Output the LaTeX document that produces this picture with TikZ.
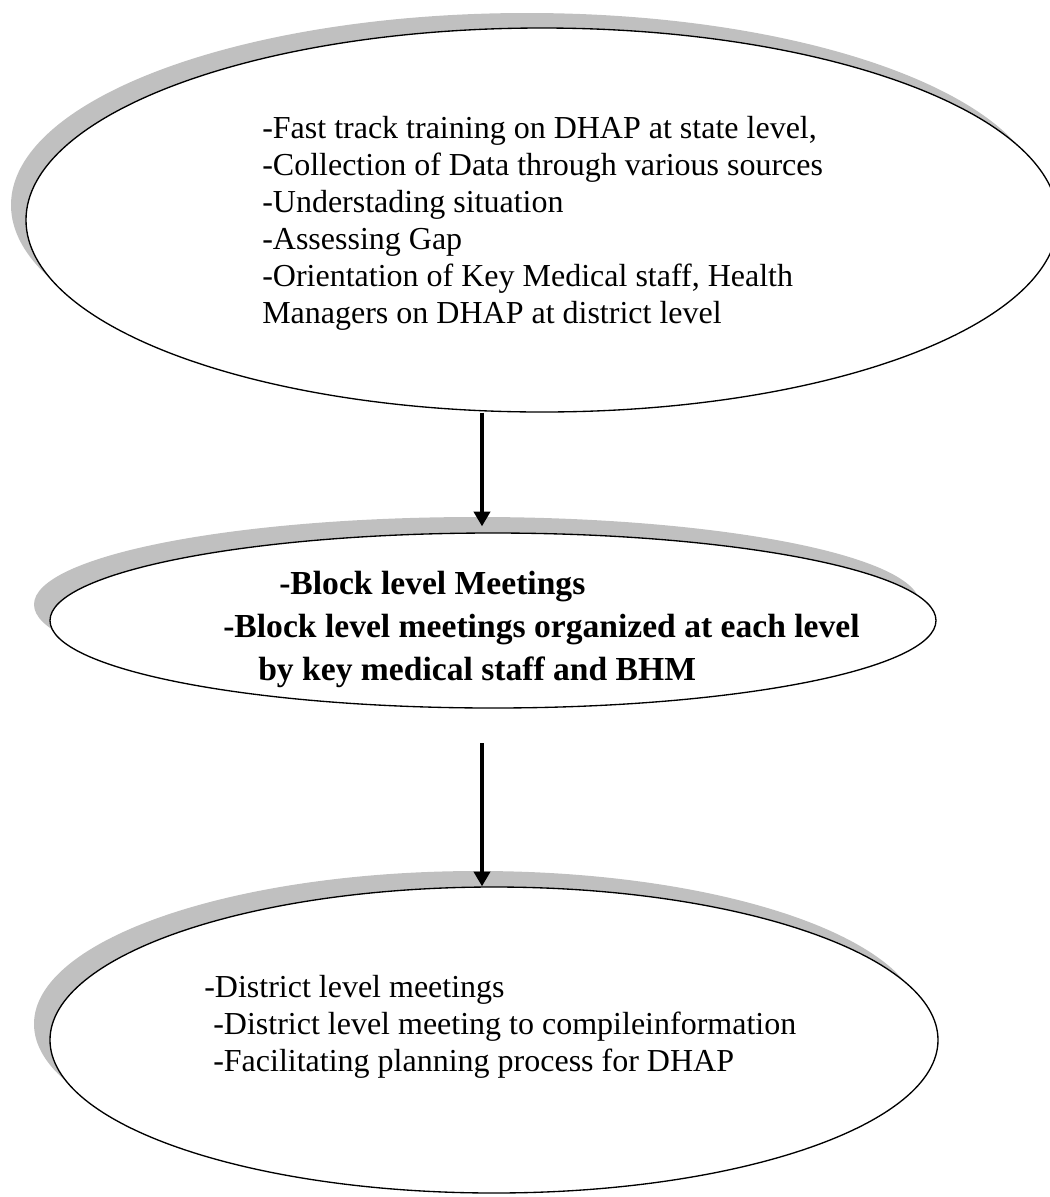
\documentclass[tikz,border=0pt]{standalone}
\usepackage{fontspec}
\setmainfont{Liberation Serif}
\usetikzlibrary{shapes.geometric,arrows.meta,shadows}
\definecolor{shadowgray}{RGB}{192,192,192}
\begin{document}
\begin{tikzpicture}[x=0.75pt,y=-0.75pt,
  oval/.style={ellipse,draw=black,line width=1pt,fill=white,inner sep=0pt},
  ovalshadow/.style={drop shadow={shadow xshift=-#1,shadow yshift=#1,fill=shadowgray,opacity=1}},
  txt/.style={anchor=base west,inner sep=0pt,font=\fontsize{24}{27.7}\selectfont},
  btxt/.style={anchor=base west,inner sep=0pt,font=\fontsize{25.2}{32}\selectfont\bfseries},
  arr/.style={line width=3pt,-{Triangle[length=11pt,width=12pt]}}]
\useasboundingbox (0,0) rectangle (1050,1197);
% ellipses
\node[oval,ovalshadow=11.25pt,minimum width=774pt,minimum height=288pt] (e1) at (542,220) {};
\node[oval,ovalshadow=12pt,minimum width=664.5pt,minimum height=131.25pt] (e2) at (493,620.5) {};
\node[oval,ovalshadow=12pt,minimum width=666pt,minimum height=229.5pt] (e3) at (494,1040) {};
% texts
\node[txt] (t1a) at (262,138) {-Fast track training on DHAP at state level,};
\node[txt] (t1b) at (262,175) {-Collection of Data through various sources};
\node[txt] (t1c) at (262,212) {-Understading situation};
\node[txt] (t1d) at (262,249) {-Assessing Gap};
\node[txt] (t1e) at (262,286) {-Orientation of Key Medical staff, Health};
\node[txt] (t1f) at (262,323) {Managers on DHAP at district level};
\node[btxt] (t2a) at (279,594) {-Block level Meetings};
\node[btxt] (t2b) at (223,637) {-Block level meetings organized at each level};
\node[btxt] (t2c) at (258,680) {by key medical staff and BHM};
\node[txt] (t3a) at (204,997) {-District level meetings};
\node[txt] (t3b) at (213,1034) {-District level meeting to compileinformation};
\node[txt] (t3c) at (213,1071) {-Facilitating planning process for DHAP};
% arrows
\coordinate (ax) at (482,0);
\coordinate (a2s) at (482,743);
\draw[arr,shorten >=4.5pt] (e1.south -| ax) -- (e2.north -| ax);
\draw[arr] (a2s) -- (e3.north -| ax);
\end{tikzpicture}
\end{document}
